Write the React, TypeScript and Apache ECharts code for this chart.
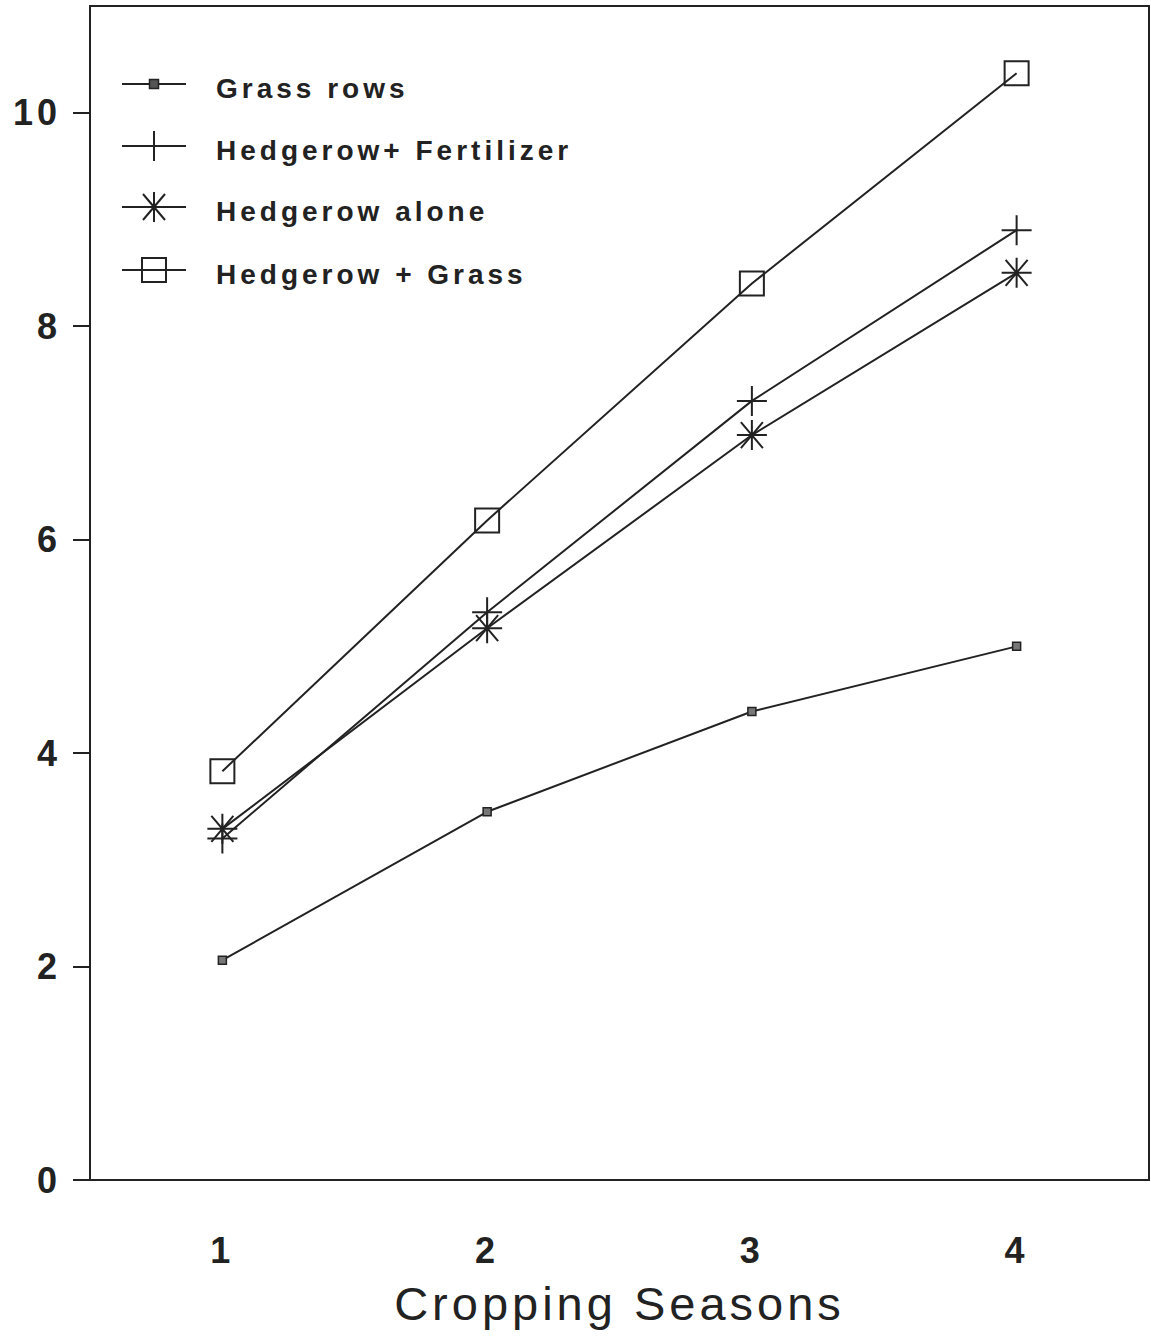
import React, { useEffect, useRef } from "react";
import * as echarts from "echarts";

const seasons = ["1", "2", "3", "4"];
const seriesNames = ["Grass rows", "Hedgerow+ Fertilizer", "Hedgerow alone", "Hedgerow + Grass"];
const grassRows = [2.06, 3.45, 4.39, 5.0];
const hedgeFert = [3.2, 5.32, 7.3, 8.9];
const hedgeAlone = [3.29, 5.17, 6.98, 8.5];
const hedgeGrass = [3.83, 6.18, 8.4, 10.37];
const yTicks = [0, 2, 4, 6, 8, 10];

const INK = "#222";
const PLUS = "path://M0,-15L0,15M-15,0L15,0";
const STAR = "path://M0,-15L0,15M-15,0L15,0M-11,-13L11,13M-11,13L11,-13";

export default function App() {
  const ref = useRef<HTMLDivElement>(null);
  useEffect(() => {
    if (!ref.current) return;
    const chart = echarts.init(ref.current, undefined, { renderer: "svg" });
    const lineBase = (name: string, data: number[]) => ({
      name,
      type: "line",
      data,
      lineStyle: { color: INK, width: 2 },
      z: 3,
    });
    const legendRows = [84, 146, 207, 270];
    const graphics: any[] = [];
    legendRows.forEach((y, i) => {
      graphics.push({
        type: "line",
        shape: { x1: 122, y1: y, x2: 186, y2: y },
        style: { stroke: INK, lineWidth: 2 },
      });
      graphics.push({
        type: "text",
        x: 216,
        y: y + 4,
        style: {
          text: seriesNames[i],
          font: 'bold 28px "Liberation Sans"',
          fontSize: 28,
          fontWeight: "bold",
          fontFamily: "Liberation Sans",
          fill: INK,
          verticalAlign: "middle",
        },
      });
    });
    const cx = 154;
    graphics.push({
      type: "rect",
      shape: { x: cx - 4.5, y: legendRows[0] - 4.5, width: 9, height: 9 },
      style: { fill: "#555", stroke: INK, lineWidth: 1.5 },
    });
    graphics.push({ type: "line", shape: { x1: cx, y1: legendRows[1] - 15, x2: cx, y2: legendRows[1] + 15 }, style: { stroke: INK, lineWidth: 2 } });
    const sy = legendRows[2];
    graphics.push({ type: "line", shape: { x1: cx, y1: sy - 15, x2: cx, y2: sy + 15 }, style: { stroke: INK, lineWidth: 2 } });
    graphics.push({ type: "line", shape: { x1: cx - 11, y1: sy - 13, x2: cx + 11, y2: sy + 13 }, style: { stroke: INK, lineWidth: 2 } });
    graphics.push({ type: "line", shape: { x1: cx - 11, y1: sy + 13, x2: cx + 11, y2: sy - 13 }, style: { stroke: INK, lineWidth: 2 } });
    graphics.push({
      type: "rect",
      shape: { x: cx - 12, y: legendRows[3] - 12, width: 24, height: 24 },
      style: { fill: "none", stroke: INK, lineWidth: 2 },
    });

    chart.setOption({
      animation: false,
      backgroundColor: "#fff",
      grid: {
        left: 90,
        top: 6,
        right: 2,
        bottom: 157,
        show: true,
        borderColor: INK,
        borderWidth: 2,
        backgroundColor: "transparent",
      },
      xAxis: [
        {
          type: "category",
          data: seasons,
          boundaryGap: true,
          axisLine: { lineStyle: { color: INK, width: 2 } },
          axisTick: { alignWithLabel: true, length: 17, lineStyle: { color: INK, width: 2 } },
          axisLabel: {
            margin: 52,
            fontSize: 36,
            fontWeight: "bold",
            fontFamily: "Liberation Sans",
            color: INK,
          },
          name: "Cropping Seasons",
          nameLocation: "middle",
          nameGap: 100,
          nameTextStyle: { fontSize: 47, fontFamily: "Liberation Sans", color: INK },
          splitLine: { show: false },
        },
        {
          type: "category",
          data: seasons,
          position: "bottom",
          boundaryGap: true,
          axisLine: { show: false },
          axisTick: { alignWithLabel: true, inside: true, length: 16, lineStyle: { color: INK, width: 2 } },
          axisLabel: { show: false },
          splitLine: { show: false },
        },
      ],
      yAxis: {
        type: "value",
        min: 0,
        max: 11,
        interval: 2,
        axisLine: { show: true, lineStyle: { color: INK, width: 2 } },
        axisTick: { show: true, length: 17, customValues: yTicks, lineStyle: { color: INK, width: 2 } },
        axisLabel: {
          margin: 29,
          fontSize: 36,
          fontWeight: "bold",
          fontFamily: "Liberation Sans",
          color: INK,
          customValues: yTicks,
        },
        splitLine: { show: false },
      },
      graphic: graphics,
      series: [
        {
          ...lineBase(seriesNames[0], grassRows),
          symbol: "rect",
          symbolSize: 8,
          itemStyle: { color: "#777", borderColor: INK, borderWidth: 1.5 },
        },
        {
          ...lineBase(seriesNames[1], hedgeFert),
          symbol: PLUS,
          symbolSize: 30,
          itemStyle: { color: "transparent", borderColor: INK, borderWidth: 2 },
        },
        {
          ...lineBase(seriesNames[2], hedgeAlone),
          symbol: STAR,
          symbolSize: 30,
          itemStyle: { color: "transparent", borderColor: INK, borderWidth: 2 },
        },
        {
          ...lineBase(seriesNames[3], hedgeGrass),
          symbol: "rect",
          symbolSize: 24,
          itemStyle: { color: "transparent", borderColor: INK, borderWidth: 2 },
        },
      ],
    });
    return () => chart.dispose();
  }, []);
  return (
    <>
      <style>{".chartbox text{letter-spacing:4px}"}</style>
      <div
        ref={ref}
        className="chartbox"
        style={{ position: "absolute", left: 0, top: 0, width: 1151, height: 1337 }}
      />
    </>
  );
}
